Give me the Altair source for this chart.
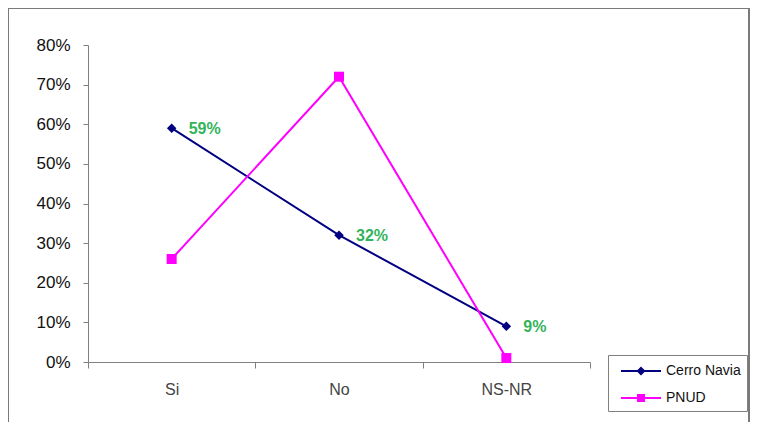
import altair as alt
import pandas as pd

categories = ["Si", "No", "NS-NR"]
series_names = ["Cerro Navia", "PNUD"]
cerro_navia = [0.59, 0.32, 0.09]
pnud = [0.26, 0.72, 0.01]
y_ticks = [0, 0.1, 0.2, 0.3, 0.4, 0.5, 0.6, 0.7, 0.8]
colors = ["#000080", "#FF00FF"]
markers = ["diamond", "square"]
marker_sizes = [90, 100]

rows = []
for c, v in zip(categories, cerro_navia):
    rows.append({"category": c, "series": "Cerro Navia", "value": v})
for c, v in zip(categories, pnud):
    rows.append({"category": c, "series": "PNUD", "value": v})
df = pd.DataFrame(rows)

FONT = "Liberation Sans"

x_enc = alt.X(
    "category:N",
    sort=categories,
    scale=alt.Scale(type="band", paddingInner=0, paddingOuter=0),
    axis=alt.Axis(
        title=None, labelAngle=0, tickBand="extent", tickSize=6,
        tickColor="#808080", domainColor="#808080", labelPadding=13,
        labelFont=FONT, labelFontSize=16, labelColor="#444444",
    ),
)
y_enc = alt.Y(
    "value:Q",
    scale=alt.Scale(domain=[0, 0.8], nice=False),
    axis=alt.Axis(
        title=None, values=y_ticks, format=".0%", grid=False, tickSize=5,
        tickColor="#808080", domainColor="#808080", labelPadding=13,
        labelFont=FONT, labelFontSize=17, labelColor="#111111",
    ),
)

# legend symbols: a short line with the series marker on it (filled, same winding)
diamond_path = "M-2,-0.1H2V0.1H-2ZM0,-0.45L0.45,0L0,0.45L-0.45,0Z"
square_path = "M-2,-0.1H2V0.1H-2ZM-0.4,-0.4H0.4V0.4H-0.4Z"

base = alt.Chart(df)

series_layers = []
for name, col, mk, sz in zip(series_names, colors, markers, marker_sizes):
    sub = base.transform_filter(alt.datum.series == name)
    series_layers.append(sub.mark_line(strokeWidth=2, color=col).encode(x=x_enc, y=y_enc))
    series_layers.append(
        sub.mark_point(filled=True, opacity=1, shape=mk, size=sz, color=col).encode(x=x_enc, y=y_enc)
    )


def make_legend():
    return alt.Legend(
        title=None, orient="none", legendX=520, legendY=310,
        fillColor="white", strokeColor="#808080", padding=6, rowPadding=10,
        symbolSize=400, symbolStrokeWidth=0, symbolOffset=17, labelOffset=15,
        labelFont=FONT, labelFontSize=14, labelColor="#111111",
    )


legend_layer = base.transform_filter("false").mark_point(filled=True, opacity=1).encode(
    x=x_enc, y=y_enc,
    color=alt.Color("series:N", scale=alt.Scale(domain=series_names, range=colors), legend=make_legend()),
    shape=alt.Shape("series:N", scale=alt.Scale(domain=series_names, range=[diamond_path, square_path]), legend=make_legend()),
)

labels = base.transform_filter(alt.datum.series == "Cerro Navia").mark_text(
    align="left", baseline="middle", dx=17, dy=1, fontSize=16, fontWeight="bold",
    font=FONT, color="#33B35A",
).encode(x=x_enc, y=y_enc, text=alt.Text("value:Q", format=".0%"))

frame = alt.Chart(alt.Data(values=[{}])).mark_rect(
    filled=False, stroke="#7a7a7a", strokeWidth=2
).encode(
    x=alt.value(-80), x2=alt.value(661), y=alt.value(-37), y2=alt.value(500)
)

chart = alt.layer(frame, *series_layers, labels, legend_layer).properties(
    width=502, height=317,
    autosize="none",
    padding={"left": 80, "top": 37, "right": 160, "bottom": 60},
).configure_view(stroke=None)

chart.save("out.html", embed_options={"renderer": "svg", "actions": False})
